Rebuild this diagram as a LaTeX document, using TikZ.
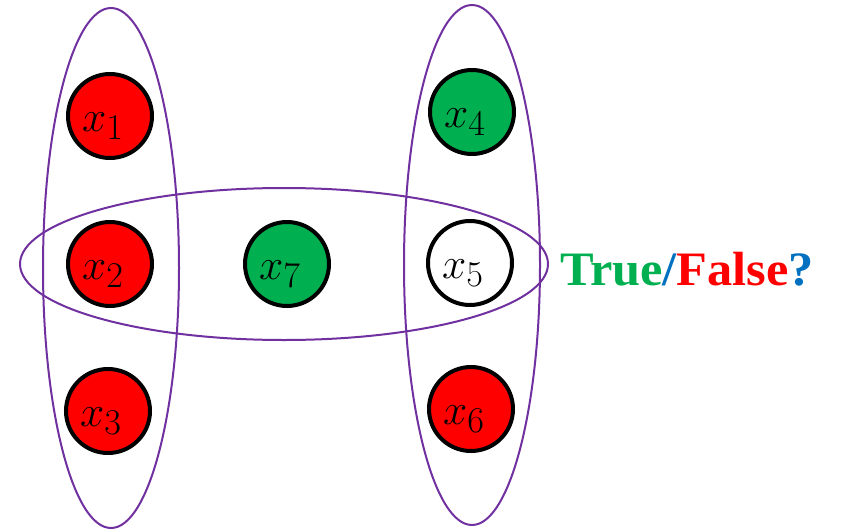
\documentclass[tikz,border=0pt]{standalone}
\usepackage{fontspec}
\newfontfamily\tffont{Liberation Serif}
\definecolor{hpurple}{RGB}{112,48,160}
\definecolor{hgreen}{RGB}{0,176,80}
\definecolor{hred}{RGB}{255,0,0}
\definecolor{hblue}{RGB}{0,112,192}
\tikzset{
  edgeset/.style={draw=hpurple, line width=2pt},
  var/.style={circle, draw=black, line width=4pt, minimum size=84pt, inner sep=0pt},
  lab/.style={font=\Huge, scale=1.75, inner sep=0pt}
}
\begin{document}
\begin{tikzpicture}[x=1pt,y=-1pt]
\useasboundingbox (0,0) rectangle (846,530);
\draw[edgeset] (111,268) ellipse [x radius=68, y radius=260];
\draw[edgeset] (472,265) ellipse [x radius=68, y radius=260];
\draw[edgeset] (284,264) ellipse [x radius=264, y radius=76];
\node[var, fill=hred] (n1) at (110,116) {};
\node[var, fill=hred] (n2) at (110,264) {};
\node[var, fill=hred] (n3) at (108,411) {};
\node[var, fill=hgreen] (n4) at (472,112) {};
\node[var, fill=white] (n5) at (470,263) {};
\node[var, fill=hred] (n6) at (471,409) {};
\node[var, fill=hgreen] (n7) at (287,264) {};
\node[lab] (l1) at ([xshift=-7pt,yshift=-10pt]n1.center) {$x_1$};
\node[lab] (l2) at ([xshift=-7pt,yshift=-10pt]n2.center) {$x_2$};
\node[lab] (l3) at ([xshift=-7pt,yshift=-10pt]n3.center) {$x_3$};
\node[lab] (l4) at ([xshift=-7pt,yshift=-10pt]n4.center) {$x_4$};
\node[lab] (l5) at ([xshift=-7pt,yshift=-10pt]n5.center) {$x_5$};
\node[lab] (l6) at ([xshift=-7pt,yshift=-10pt]n6.center) {$x_6$};
\node[lab] (l7) at ([xshift=-7pt,yshift=-10pt]n7.center) {$x_7$};
\node[anchor=base west, inner sep=0pt, font=\tffont\bfseries\fontsize{48}{52}\selectfont, xscale=1.05] (tf) at (560,285)
  {\textcolor{hgreen}{True}\textcolor{hblue}{/}\textcolor{hred}{False}\textcolor{hblue}{?}};
\end{tikzpicture}
\end{document}
